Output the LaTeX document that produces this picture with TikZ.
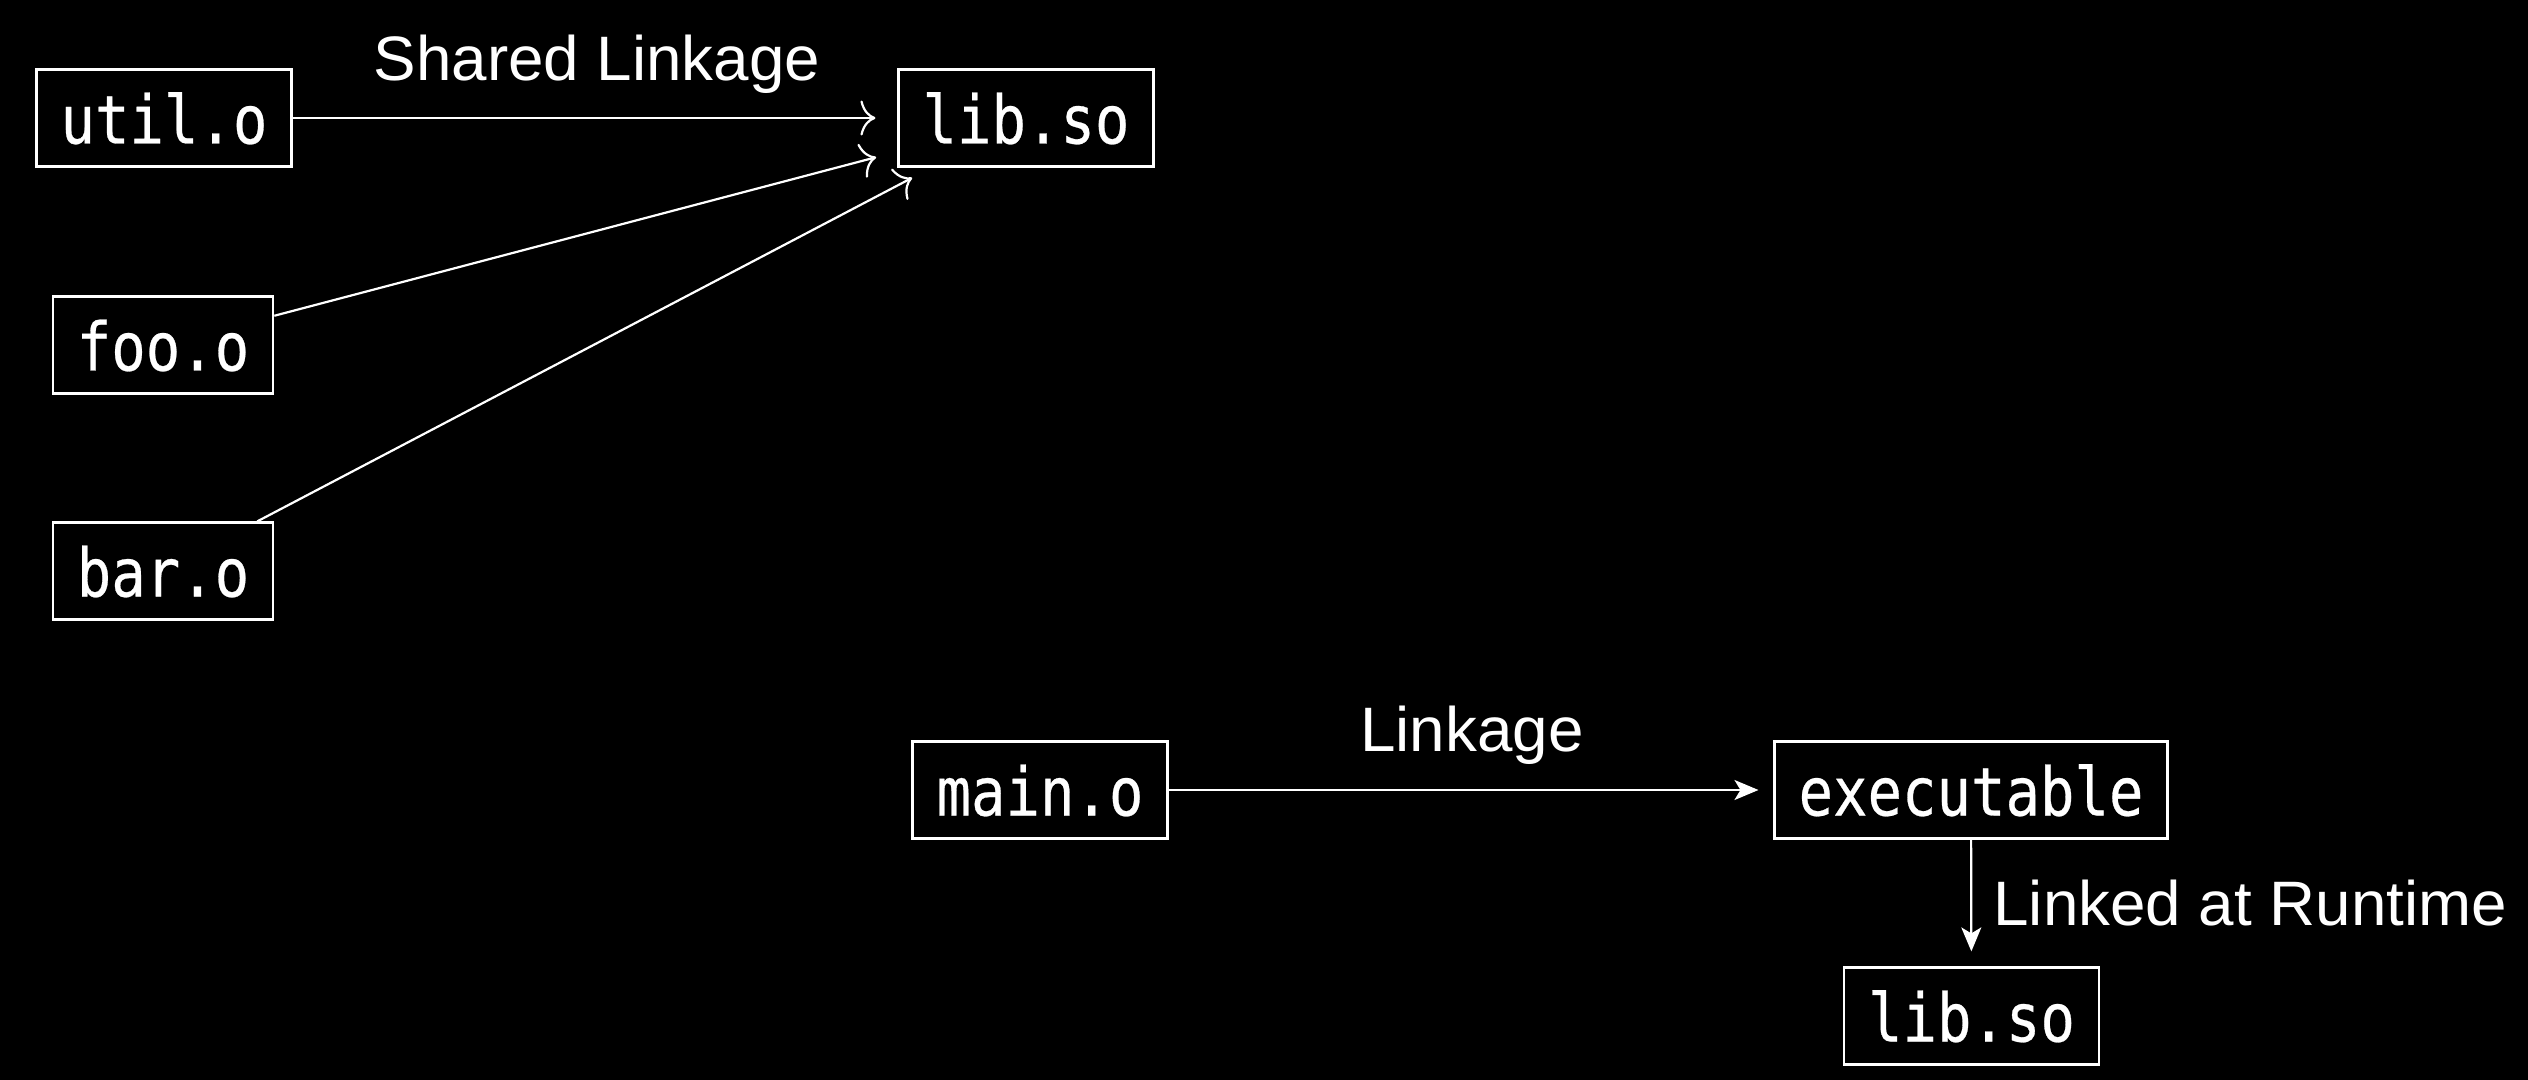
\documentclass[tikz,border=0pt]{standalone}
\usepackage{fontspec}
\setmainfont{Liberation Sans}[FakeStretch=1.015]
\newfontfamily\monof[FakeStretch=0.855,FakeBold=0.4]{DejaVu Sans Mono}
\usetikzlibrary{arrows.meta}
\begin{document}
\begin{tikzpicture}[x=0.5pt,y=-0.5pt,
  filebox/.style={draw=white, line width=1.1pt, text=white,
    font=\monof\fontsize{33.5pt}{40pt}\selectfont,
    inner xsep=12pt, inner ysep=0pt, minimum height=48.5pt,
    text height=25.5pt, text depth=0pt},
  lbl/.style={text=white, inner sep=0pt,
    font=\fontsize{31.4pt}{38pt}\selectfont},
  curvedarrow/.style={draw=white, line width=1.1pt,
    -{Computer Modern Rightarrow[length=7.5pt,width=17.5pt]}, shorten >=11pt},
  sharparrow/.style={draw=white, line width=1.1pt,
    -{Stealth[length=12pt,width=10pt,inset=3pt]}, shorten >=7.5pt}
]
\fill[black] (0,0) rectangle (2528,1080);
\useasboundingbox (0,0) rectangle (2528,1080);

\node[filebox] (util) at (164,118) {util.o};
\node[filebox] (libA) at (1026,118) {lib.so};
\node[filebox] (foo)  at (163,345) {foo.o};
\node[filebox] (bar)  at (163,571) {bar.o};
\node[filebox] (main) at (1040,790) {main.o};
\node[filebox] (exec) at (1971,790) {executable};
\node[filebox] (libB) at (1971.5,1016) {lib.so};

\node[lbl, anchor=base] (shl) at (597,81) {Shared Linkage};
\node[lbl, anchor=base] (lk) at (1472,751) {Linkage};
\node[lbl, anchor=base west] (lrt) at (1993,925) {Linked at Runtime};

\draw[curvedarrow] (util) -- (libA);
\draw[curvedarrow] (foo) -- (libA);
\draw[curvedarrow] (bar) -- (libA);
\draw[sharparrow] (main) -- (exec);
\draw[sharparrow] (exec) -- (libB);
\end{tikzpicture}
\end{document}
